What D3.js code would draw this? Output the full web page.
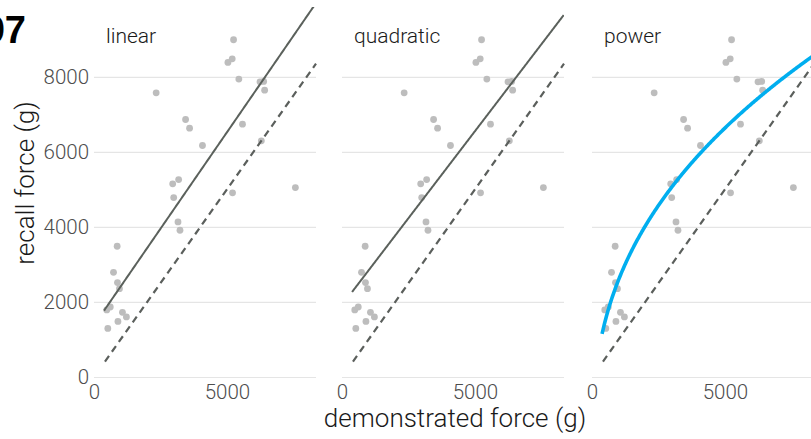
<!DOCTYPE html>
<html>
<head>
<meta charset="utf-8">
<script src="https://cdn.jsdelivr.net/npm/d3@7"></script>
<style>
  body { margin: 0; background: #fff; }
  text { font-family: Roboto, "Noto Sans", sans-serif; font-weight: 300; }
</style>
</head>
<body>
<svg id="chart" width="811" height="439"></svg>
<script>
// demonstrated force (g) and recall force (g)
let demonstrated = [5249, 5037, 5199, 5448, 2338, 6244, 6381, 6418, 3445, 3595,
                    5585, 4080, 6294, 2960, 3184, 2998, 5211, 7575, 3159, 3234,
                    871, 734, 883, 958, 480, 612, 520, 1070, 1219, 900]
let recall = [8987, 8382, 8480, 7938, 7573, 7867, 7876, 7644, 6862, 6631,
              6738, 6169, 6293, 5147, 5262, 4782, 4907, 5049, 4133, 3911,
              3484, 2790, 2515, 2355, 1787, 1866, 1295, 1724, 1600, 1480]

let panelNames = ["linear", "quadratic", "power"]
let xTicks = [0, 5000]
let yTicks = [0, 2000, 4000, 6000, 8000]

// fitted model coefficients
let linearCoef = [1381, 1.028]          // a + b x
let quadraticCoef = [1915, 0.927, 0]    // a + b x + c x^2
let powerCoef = [-1886, 282.4, 0.4]     // a + b x^c
let fitStart = 378
let identityStart = 412

let svg = d3.select("#chart")

let panelLeft = [94, 342, 592]
let panelWidth = 222
let plotTop = 7
let plotBottom = 377

let y = d3.scaleLinear()
    .domain([0, 9860])
    .range([plotBottom, plotTop])

let models = {
    linear: (x) => linearCoef[0] + linearCoef[1] * x,
    quadratic: (x) => quadraticCoef[0] + quadraticCoef[1] * x + quadraticCoef[2] * x * x,
    power: (x) => powerCoef[0] + powerCoef[1] * Math.pow(x, powerCoef[2])
}

let points = demonstrated.map((d, i) => ({ x: d, y: recall[i] }))

svg.append("defs").selectAll("clipPath")
    .data(panelNames)
    .enter()
    .append("clipPath")
    .attr("id", (d) => "clip-" + d)
    .append("rect")
    .attr("x", 0)
    .attr("y", plotTop)
    .attr("width", panelWidth)
    .attr("height", plotBottom - plotTop + 5)

panelNames.forEach((name, p) => {
    let x = d3.scaleLinear()
        .domain([0, 8350])
        .range([0, panelWidth])

    let g = svg.append("g")
        .attr("transform", "translate(" + panelLeft[p] + ",0)")

    // gridlines
    let grid = g.append("g")
        .call(d3.axisLeft(y).tickValues(yTicks).tickSize(-panelWidth).tickFormat(""))
    grid.select(".domain").remove()
    grid.selectAll("line")
        .attr("stroke", "#e5e5e5")
        .attr("stroke-width", 1.2)

    // y labels only on first panel
    if (p === 0) {
        let yAxis = g.append("g")
            .call(d3.axisLeft(y).tickValues(yTicks).tickSize(0).tickPadding(5).tickFormat(d3.format("d")))
        yAxis.select(".domain").remove()
        yAxis.selectAll("text")
            .attr("fill", "#4d4d4d")
            .style("font-size", "20.5px")
            .style("font-family", "Roboto")
            .style("font-weight", 300)
    }

    let xAxis = g.append("g")
        .attr("transform", "translate(0," + plotBottom + ")")
        .call(d3.axisBottom(x).tickValues(xTicks).tickSize(0).tickPadding(7).tickFormat(d3.format("d")))
    xAxis.select(".domain").remove()
    xAxis.selectAll("text")
        .attr("fill", "#4d4d4d")
        .style("font-size", "20.5px")
        .style("font-family", "Roboto")
        .style("font-weight", 300)

    // points
    g.append("g")
        .selectAll("circle")
        .data(points)
        .enter()
        .append("circle")
        .attr("cx", (d) => x(d.x))
        .attr("cy", (d) => y(d.y))
        .attr("r", 3.4)
        .attr("fill", "#bdbdbd")

    let line = d3.line()
        .x((d) => x(d[0]))
        .y((d) => y(d[1]))

    let xMax = x.domain()[1]

    // identity line
    g.append("path")
        .attr("d", line([[identityStart, identityStart], [xMax, xMax]]))
        .attr("fill", "none")
        .attr("stroke", "#5b5f5c")
        .attr("stroke-width", 2.2)
        .attr("stroke-dasharray", "7,5")

    // fitted curve
    let xs = d3.range(fitStart, xMax + 1, 20)
    let curve = xs.map((v) => [v, models[name](v)])

    g.append("path")
        .attr("clip-path", "url(#clip-" + name + ")")
        .attr("d", line(curve))
        .attr("fill", "none")
        .attr("stroke", name === "power" ? "#00aeef" : "#5b615c")
        .attr("stroke-width", name === "power" ? 3.6 : 2)

    g.append("text")
        .attr("x", 12)
        .attr("y", 43)
        .text(name)
        .style("font-size", "21px")
        .attr("fill", "#1a1a1a")
})

svg.append("text")
    .attr("x", 455)
    .attr("y", 427)
    .attr("text-anchor", "middle")
    .text("demonstrated force (g)")
    .style("font-size", "26px")
    .attr("fill", "#1a1a1a")

svg.append("text")
    .attr("transform", "translate(34,183) rotate(-90)")
    .attr("text-anchor", "middle")
    .text("recall force (g)")
    .style("font-size", "26px")
    .attr("fill", "#1a1a1a")

svg.append("text")
    .attr("x", 26)
    .attr("y", 43)
    .attr("text-anchor", "end")
    .text("97")
    .style("font-family", "Liberation Sans, Arial, sans-serif")
    .style("font-weight", 700)
    .style("font-size", "38px")
    .attr("fill", "#000")
</script>
</body>
</html>
